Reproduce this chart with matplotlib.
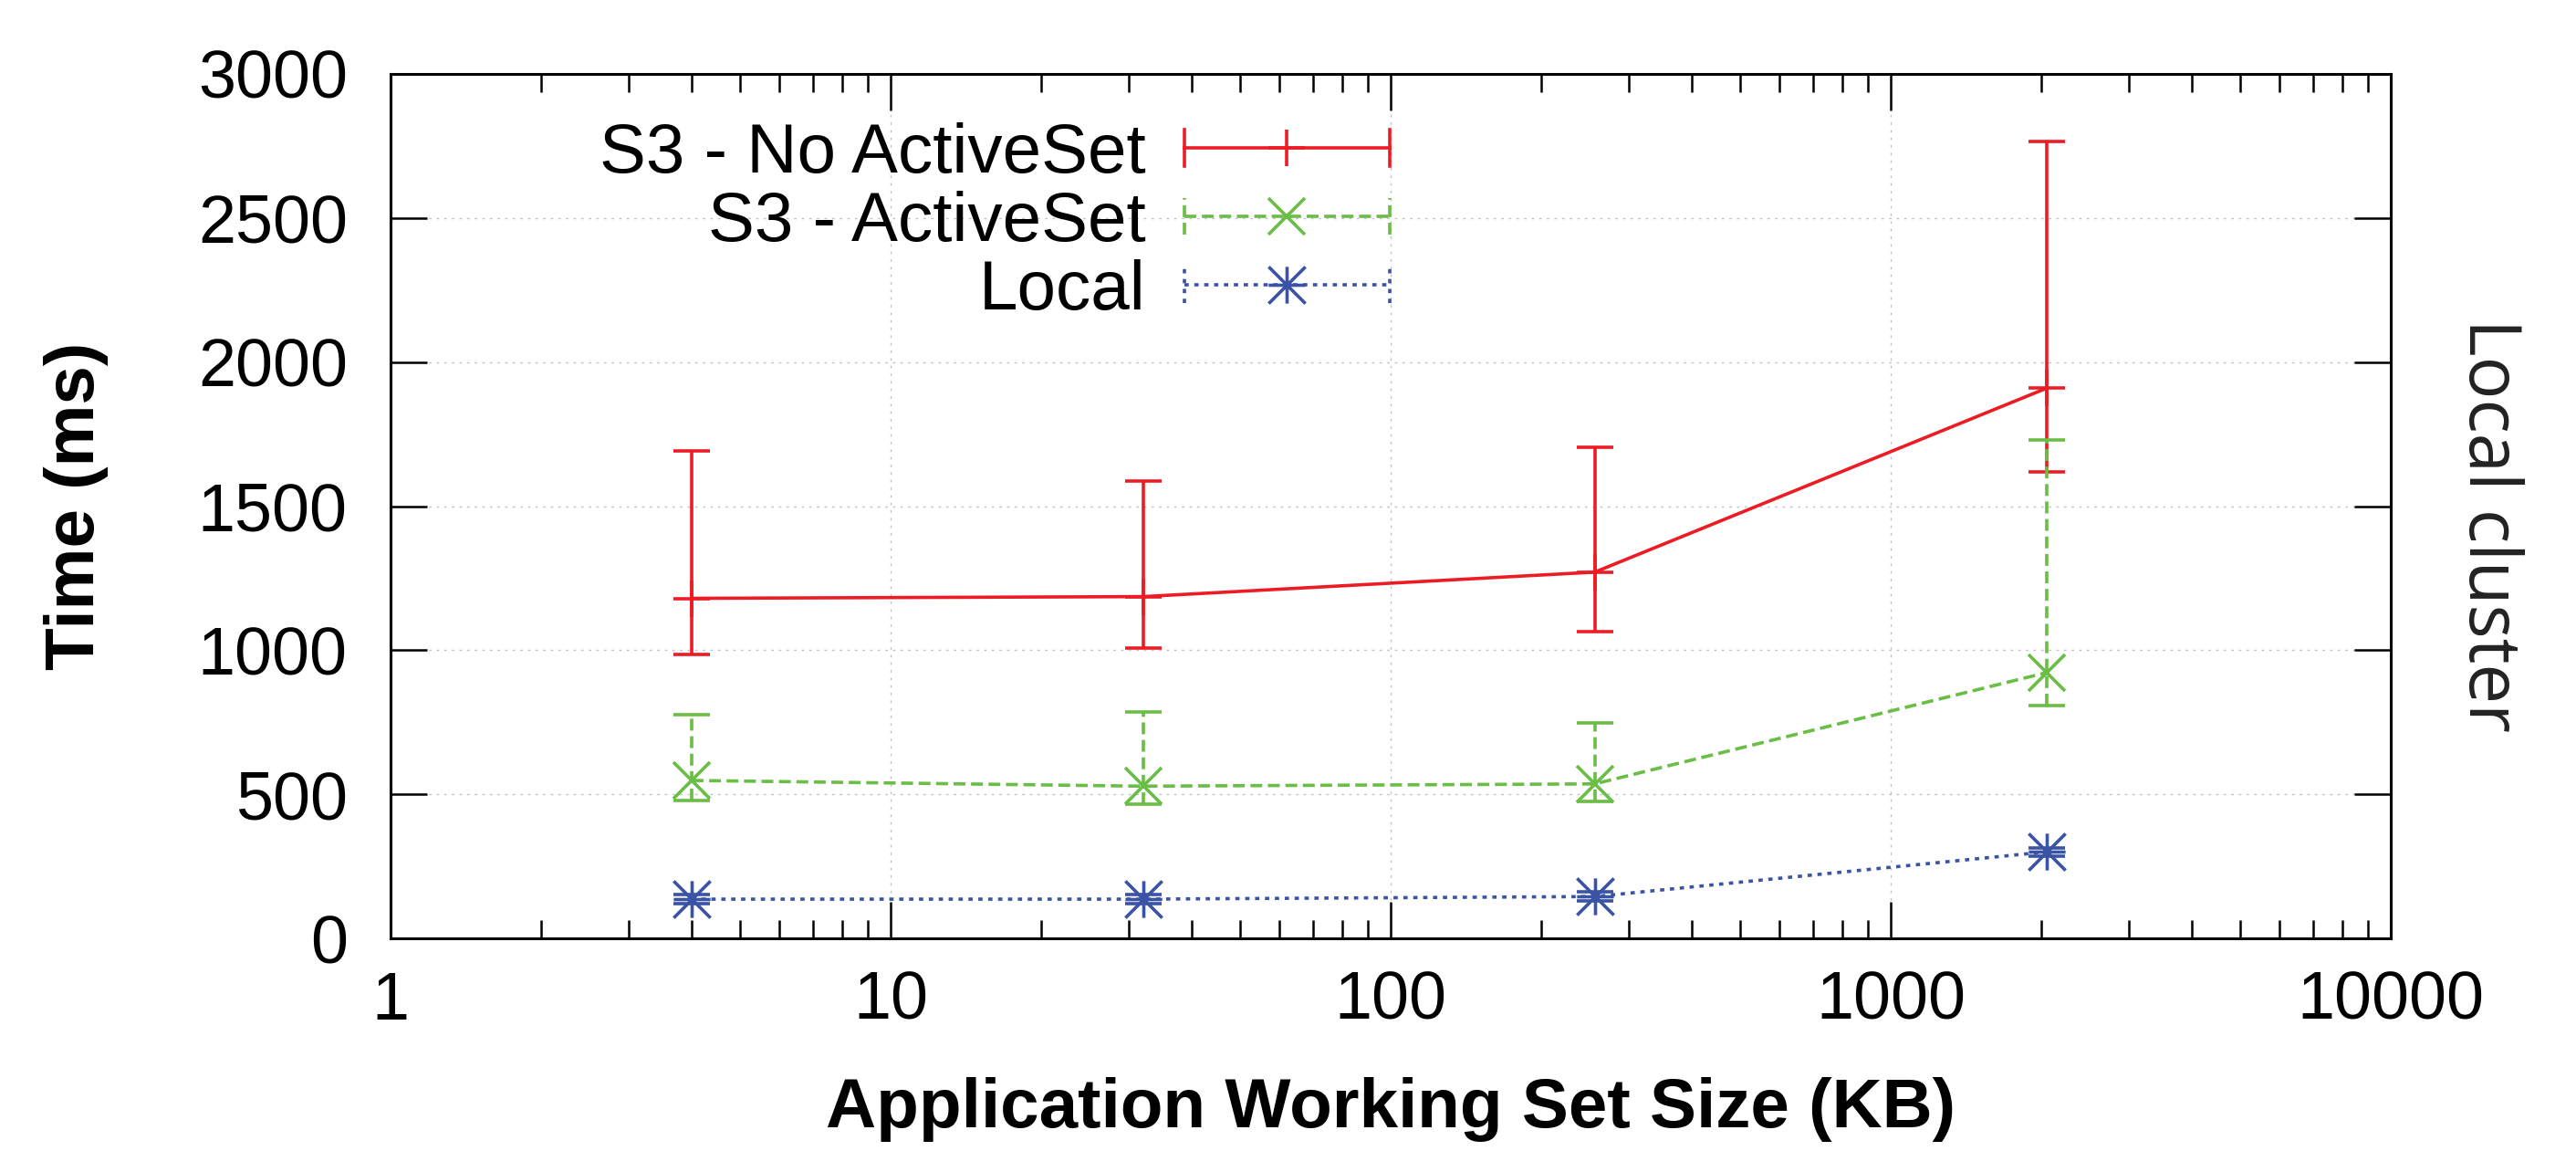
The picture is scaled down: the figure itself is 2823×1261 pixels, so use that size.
import matplotlib
matplotlib.use("Agg")
import matplotlib.pyplot as plt
import numpy as np
from matplotlib.legend_handler import HandlerBase
from matplotlib.lines import Line2D
from matplotlib.path import Path
from matplotlib.ticker import FixedLocator, LogLocator, NullFormatter

# working set sizes (KB)
SIZES_KB = [4, 32, 256, 2048]

# S3 without ActiveSet: mean, lower and upper end of error bar (ms)
NO_AS_MEAN = [1180, 1186, 1271, 1909]
NO_AS_LOW = [984, 1007, 1064, 1620]
NO_AS_HIGH = [1692, 1587, 1704, 2764]

# S3 with ActiveSet
AS_MEAN = [548, 528, 536, 922]
AS_LOW = [479, 465, 476, 809]
AS_HIGH = [775, 785, 749, 1729]

# local
LOCAL_MEAN = [136, 136, 145, 300]
LOCAL_LOW = [121, 121, 130, 285]
LOCAL_HIGH = [151, 151, 160, 315]

LABELS = ["S3 - No ActiveSet", "S3 - ActiveSet", "Local"]
X_TICKS = [1, 10, 100, 1000, 10000]
Y_TICKS = [0, 500, 1000, 1500, 2000, 2500, 3000]

plt.rcParams["font.family"] = ["Liberation Sans", "DejaVu Sans"]

# gnuplot style asterisk: "+" and "x" on top of each other
ASTERISK = Path(
    [(-1, 0), (1, 0), (0, -1), (0, 1), (-1, -1), (1, 1), (-1, 1), (1, -1)],
    [Path.MOVETO, Path.LINETO] * 4,
)

LW = 2.6
MS = 29
CAP = 14.5
STYLES = [
    dict(color="#ed1c24", ls="-", marker="+"),
    dict(color="#6abd45", ls=(0, (3.6, 1.7)), marker="x"),
    dict(color="#3a53a4", ls=(0, (1.3, 1.7)), marker=ASTERISK),
]


class CappedLineHandler(HandlerBase):
    """Legend sample like gnuplot: line with caps at both ends, marker in middle."""

    def __init__(self, style):
        super().__init__()
        self.style = style

    def create_artists(self, legend, orig_handle, xdescent, ydescent,
                       width, height, fontsize, trans):
        st = self.style
        y = height / 2 - ydescent
        x0, x1 = -xdescent, width - xdescent
        kw = dict(color=st["color"], ls=st["ls"], lw=LW)
        arts = [
            Line2D([x0, x1], [y, y], **kw),
            Line2D([x0, x0], [y - CAP, y + CAP], **kw),
            Line2D([x1, x1], [y - CAP, y + CAP], **kw),
            Line2D([(x0 + x1) / 2], [y], color=st["color"], ls="none",
                   marker=st["marker"], ms=MS, mew=LW),
        ]
        for a in arts:
            a.set_transform(trans)
        return arts


fig = plt.figure(figsize=(28.23, 12.61), dpi=100)
ax = fig.add_axes([428 / 2823, 1 - 1028 / 1261, 2192 / 2823, 947 / 1261])

series = [
    (NO_AS_MEAN, NO_AS_LOW, NO_AS_HIGH),
    (AS_MEAN, AS_LOW, AS_HIGH),
    (LOCAL_MEAN, LOCAL_LOW, LOCAL_HIGH),
]

handles = []
handler_map = {}
for (mean, low, high), label, st in zip(series, LABELS, STYLES):
    mean = np.array(mean, dtype=float)
    yerr = [mean - np.array(low), np.array(high) - mean]
    _, _, bars = ax.errorbar(
        SIZES_KB, mean, yerr=yerr,
        color=st["color"], ls=st["ls"], lw=LW,
        marker=st["marker"], ms=MS, mew=LW,
        capsize=CAP, capthick=LW, elinewidth=LW, zorder=3,
    )
    bars[0].set_linestyle(st["ls"])
    h = Line2D([], [], color=st["color"], label=label)
    handles.append(h)
    handler_map[h] = CappedLineHandler(st)

ax.set_xscale("log")
ax.set_xlim(1, 10000)
ax.set_ylim(0, 3000)
ax.xaxis.set_major_locator(FixedLocator(X_TICKS))
ax.set_xticklabels([str(t) for t in X_TICKS])
ax.xaxis.set_minor_locator(LogLocator(base=10, subs=np.arange(2, 10)))
ax.xaxis.set_minor_formatter(NullFormatter())
ax.set_yticks(Y_TICKS)

ax.tick_params(which="both", direction="in", top=True, right=True, width=1.8)
ax.tick_params(which="major", length=29, labelsize=53)
ax.tick_params(which="minor", length=14.5)
ax.tick_params(axis="x", pad=25)
ax.tick_params(axis="y", pad=34)
for sp in ax.spines.values():
    sp.set_linewidth(2.2)

ax.set_axisbelow(True)
ax.grid(True, which="major", color="#c4c4c4", ls=(0, (2, 4)), lw=1.0)

ax.set_xlabel("Application Working Set Size (KB)", fontsize=55, fontweight="bold")
ax.set_ylabel("Time (ms)", fontsize=55, fontweight="bold")
ax.xaxis.set_label_coords(0.5, -0.16)
ax.yaxis.set_label_coords(-0.141, 0.5)

leg = ax.legend(
    handles=handles, handler_map=handler_map,
    loc="upper right", bbox_to_anchor=(0.4995, 0.944),
    frameon=False, markerfirst=False, fontsize=55,
    handlelength=2.95, handletextpad=0.55, labelspacing=0.05, borderpad=0,
    borderaxespad=0,
)

ax.text(1.0488, 0.478, "Local cluster", transform=ax.transAxes,
        rotation=-90, ha="center", va="center", fontsize=56,
        family=["Open Sans", "DejaVu Sans"], color="#222222")

fig.savefig("out.png", dpi=100)
